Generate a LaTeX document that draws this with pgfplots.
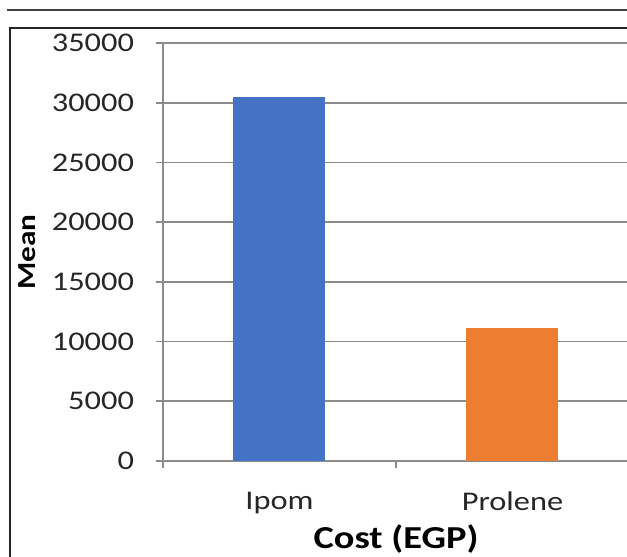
\documentclass[border=0pt]{standalone}
\usepackage{pgfplots}
\pgfplotsset{compat=1.18}
\usepackage{fontspec}
\setmainfont[FakeStretch=1.2]{Carlito}
\definecolor{axgray}{HTML}{8C8C8C}
\definecolor{barblue}{HTML}{4472C4}
\definecolor{barorange}{HTML}{ED7D31}
\begin{document}
\begin{tikzpicture}
\useasboundingbox (0pt,0pt) rectangle (313.5pt,278.5pt);
\clip (0pt,0pt) rectangle (313.5pt,278.5pt);
\draw[line width=0.6pt,black!75] (3.5pt,273.5pt) -- (320pt,273.5pt);
\draw[line width=0.6pt,black!85] (5pt,264.5pt) rectangle (350pt,-10pt);
\begin{axis}[
  at={(81.5pt,48pt)}, anchor=south west,
  scale only axis,
  width=233pt, height=209pt,
  xmin=-0.5, xmax=1.5, ymin=0, ymax=35000,
  axis x line*=bottom, axis y line*=left,
  axis line style={axgray, line width=0.8pt},
  xtick={0,1}, xticklabels={Ipom, Prolene},
  major x tick style={draw=none},
  minor xtick={-0.5,0.5,1.5},
  minor x tick style={axgray, line width=0.8pt},
  minor tick length=3.5pt,
  ytick={0,5000,...,35000},
  major y tick style={axgray, line width=0.8pt},
  major tick length=3.5pt,
  tick align=outside,
  ymajorgrids,
  grid style={axgray, line width=0.8pt},
  scaled y ticks=false,
  /pgf/number format/assume math mode=true,
  yticklabel={\pgfmathprintnumber[fixed,1000 sep={}]{\tick}},
  ticklabel style={font=\fontsize{13.5}{15}\selectfont, text=black!85},
  yticklabel style={xshift=-7.5pt},
  xticklabel style={yshift=-8.5pt},
  xlabel={\textbf{Cost (EGP)}},
  ylabel={\textbf{Mean}},
  xlabel style={font=\fontsize{16}{18}\selectfont, yshift=1.5pt},
  ylabel style={font=\fontsize{13}{15}\selectfont, yshift=1pt},
  ybar, bar width=46pt,
  clip=false,
]
\addplot[fill=barblue, draw=none, bar shift=0pt] coordinates {(0,30500)};
\addplot[fill=barorange, draw=none, bar shift=0pt] coordinates {(1,11150)};
\end{axis}
\end{tikzpicture}
\end{document}
